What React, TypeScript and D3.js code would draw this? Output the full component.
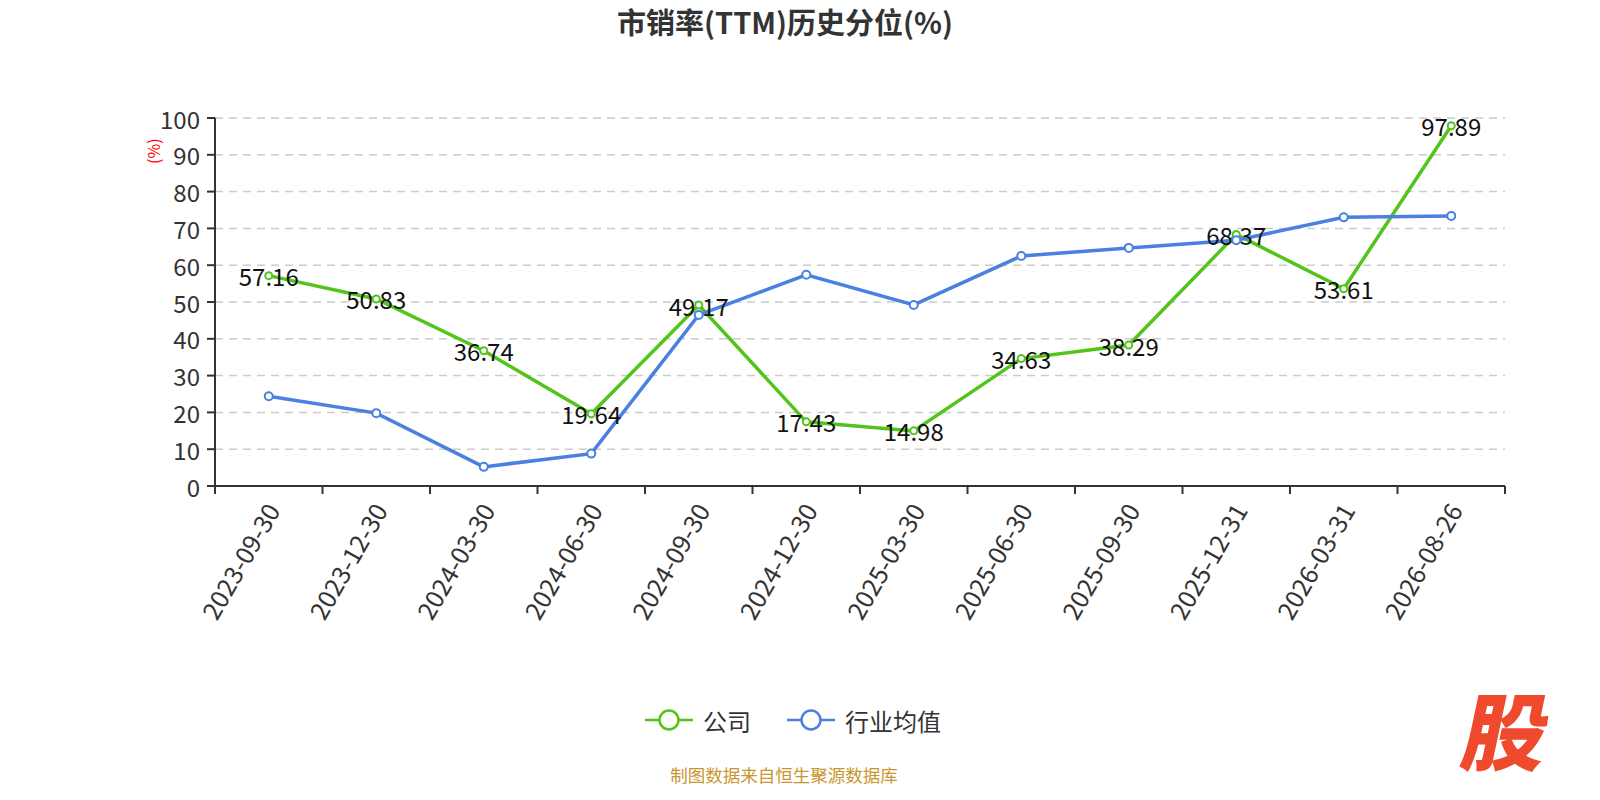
import * as d3 from 'd3';
import { useEffect } from 'react';

const CATEGORIES = [
  '2023-09-30', '2023-12-30', '2024-03-30', '2024-06-30', '2024-09-30', '2024-12-30',
  '2025-03-30', '2025-06-30', '2025-09-30', '2025-12-31', '2026-03-31', '2026-08-26',
];
const COMPANY = [57.16, 50.83, 36.74, 19.64, 49.17, 17.43, 14.98, 34.63, 38.29, 68.37, 53.61, 97.89];
const INDUSTRY = [24.4, 19.8, 5.2, 8.8, 46.5, 57.4, 49.2, 62.5, 64.7, 66.8, 73.0, 73.4];
const Y_TICKS = [0, 10, 20, 30, 40, 50, 60, 70, 80, 90, 100];

const WIDTH = 1600;
const HEIGHT = 800;
const MARGIN = { top: 118, right: 95, bottom: 314, left: 215 };
const FONT = '"Noto Sans CJK SC", "Noto Sans", sans-serif';
const GREEN = '#52c41a';
const BLUE = '#4a80e0';

export default function App() {
  useEffect(() => {
    document.body.style.margin = '0';
    document.body.style.overflow = 'hidden';
  }, []);

  const boundsWidth = WIDTH - MARGIN.left - MARGIN.right;
  const boundsHeight = HEIGHT - MARGIN.top - MARGIN.bottom;

  const xScale = d3.scaleBand().domain(CATEGORIES).range([0, boundsWidth]);
  const yScale = d3.scaleLinear().domain([0, 100]).range([boundsHeight, 0]);
  const cx = (c: string) => (xScale(c) ?? 0) + xScale.bandwidth() / 2;

  const line = d3
    .line<number>()
    .x((_, i) => cx(CATEGORIES[i]))
    .y((d) => yScale(d));

  const series = [
    { name: '公司', values: COMPANY, color: GREEN, r: 3.5, labels: true },
    { name: '行业均值', values: INDUSTRY, color: BLUE, r: 4, labels: false },
  ];

  return (
    <svg width={WIDTH} height={HEIGHT} style={{ fontFamily: FONT, display: 'block' }}>
      <rect width={WIDTH} height={HEIGHT} fill="#fff" />
      <text x={785} y={34} textAnchor="middle" fontSize={29} fontWeight="bold" fill="#333">
        市销率(TTM)历史分位(%)
      </text>

      <g transform={`translate(${MARGIN.left},${MARGIN.top})`}>
        {/* grid + y axis */}
        {Y_TICKS.map((t) => (
          <g key={t}>
            {t > 0 && (
              <line
                x1={0}
                x2={boundsWidth}
                y1={yScale(t)}
                y2={yScale(t)}
                stroke="#ccc"
                strokeWidth={1.5}
                strokeDasharray="8,6"
              />
            )}
            <line x1={-8} x2={0} y1={yScale(t)} y2={yScale(t)} stroke="#333" strokeWidth={2} />
            <text
              x={-15}
              y={yScale(t)}
              textAnchor="end"
              dominantBaseline="central"
              fontSize={24}
              fill="#333"
            >
              {t}
            </text>
          </g>
        ))}
        <line x1={0} x2={0} y1={0} y2={boundsHeight} stroke="#333" strokeWidth={2} />
        <text
          transform={`translate(${-62},${yScale(91)}) rotate(-90)`}
          textAnchor="middle"
          dominantBaseline="central"
          fontSize={16}
          fill="red"
        >
          (%)
        </text>

        {/* x axis */}
        <line x1={0} x2={boundsWidth} y1={boundsHeight} y2={boundsHeight} stroke="#333" strokeWidth={2} />
        {[...CATEGORIES.map((c) => xScale(c) ?? 0), boundsWidth].map((x, i) => (
          <line key={i} x1={x} x2={x} y1={boundsHeight} y2={boundsHeight + 8} stroke="#333" strokeWidth={2} />
        ))}
        {CATEGORIES.map((c) => (
          <text
            key={c}
            transform={`translate(${cx(c) + 3},${boundsHeight + 19}) rotate(-60)`}
            textAnchor="end"
            dominantBaseline="central"
            fontSize={25}
            fill="#333"
          >
            {c}
          </text>
        ))}

        {/* lines, labels, markers */}
        {series.map((s) => (
          <path key={s.name} d={line(s.values) ?? ''} fill="none" stroke={s.color} strokeWidth={3.5} />
        ))}
        {series
          .filter((s) => s.labels)
          .map((s) =>
            s.values.map((v, i) => (
              <text
                key={`${s.name}-l-${i}`}
                x={cx(CATEGORIES[i])}
                y={yScale(v)}
                textAnchor="middle"
                dominantBaseline="central"
                fontSize={24}
                fill="#111"
              >
                {v.toFixed(2)}
              </text>
            )),
          )}
        {series.map((s) =>
          s.values.map((v, i) => (
            <circle
              key={`${s.name}-${i}`}
              cx={cx(CATEGORIES[i])}
              cy={yScale(v)}
              r={s.r}
              fill="#fff"
              stroke={s.color}
              strokeWidth={2}
            />
          )),
        )}
      </g>

      {/* legend */}
      {series.map((s, i) => {
        const x0 = i === 0 ? 645 : 787;
        return (
          <g key={s.name} transform={`translate(${x0},720)`}>
            <line x1={0} x2={48} y1={0} y2={0} stroke={s.color} strokeWidth={2.5} />
            <circle cx={24} cy={0} r={9.5} fill="#fff" stroke={s.color} strokeWidth={2.5} />
            <text x={58} y={0} dominantBaseline="central" fontSize={24} fill="#333">
              {s.name}
            </text>
          </g>
        );
      })}

      <text x={784} y={774} textAnchor="middle" dominantBaseline="central" fontSize={17.5} fill="#c8962e">
        制图数据来自恒生聚源数据库
      </text>

      <text
        transform="translate(1500,764) skewX(-12)"
        textAnchor="middle"
        fontSize={84}
        fontWeight="900"
        fill="#f04a2e"
      >
        股
      </text>
    </svg>
  );
}
